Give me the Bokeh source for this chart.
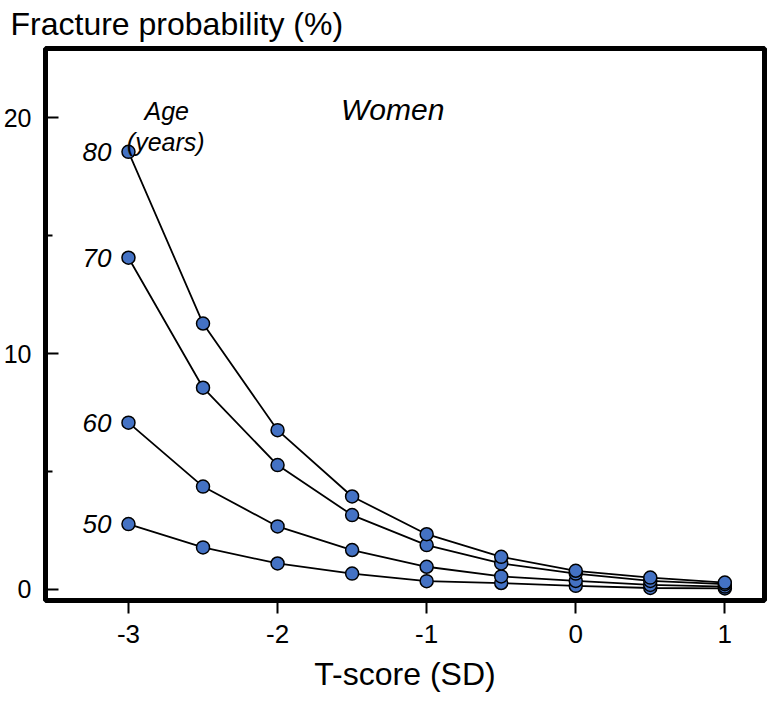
from bokeh.plotting import figure
from bokeh.models import (FixedTicker, Range1d, Label, ColumnDataSource,
                          CustomJSTickFormatter, Title)
from bokeh.core.properties import value
from bokeh.embed import file_html
from bokeh.resources import INLINE

# ---- data ----
t_score = [-3, -2.5, -2, -1.5, -1, -0.5, 0, 0.5, 1]
age_50 = [2.77, 1.78, 1.10, 0.67, 0.35, 0.27, 0.15, 0.06, 0.04]
age_60 = [7.07, 4.36, 2.67, 1.67, 0.96, 0.55, 0.36, 0.19, 0.12]
age_70 = [14.06, 8.55, 5.27, 3.15, 1.88, 1.10, 0.67, 0.36, 0.22]
age_80 = [18.55, 11.27, 6.75, 3.94, 2.34, 1.38, 0.79, 0.50, 0.29]
age_labels = ["50", "60", "70", "80"]
x_ticks = [-3, -2, -1, 0, 1]
y_ticks = [0, 10, 20]
y_minor = [5, 15]

FONT = "Liberation Sans"
BLUE = "#4472C4"

X0, X1 = -3.5565, 1.266
Y0, Y1 = -0.47, 22.93

p = figure(frame_width=719, frame_height=552,
           x_range=Range1d(X0, X1), y_range=Range1d(Y0, Y1),
           output_backend="svg", toolbar_location=None,
           min_border_left=45, min_border_top=48, min_border_right=4,
           min_border_bottom=100)
p.background_fill_color = "white"
p.border_fill_color = "white"
p.outline_line_color = "black"
p.outline_line_width = 5
p.xgrid.visible = False
p.ygrid.visible = False

# x axis
xa = p.xaxis[0]
xa.ticker = FixedTicker(ticks=x_ticks)
xa.formatter = CustomJSTickFormatter(code="return tick.toString();")
xa.axis_line_color = None
xa.major_tick_in = 0
xa.major_tick_out = 13
xa.major_tick_line_width = 2
xa.minor_tick_line_color = None
xa.major_label_text_font = FONT
xa.major_label_text_font_size = "26px"
xa.major_label_text_color = "black"
xa.major_label_standoff = 11
xa.axis_label = "T-score (SD)"
xa.axis_label_text_font = FONT
xa.axis_label_text_font_size = "32px"
xa.axis_label_text_font_style = "normal"
xa.axis_label_text_color = "black"
xa.axis_label_standoff = 10

# y axis
ya = p.yaxis[0]
ya.ticker = FixedTicker(ticks=y_ticks, minor_ticks=y_minor)
ya.formatter = CustomJSTickFormatter(code="return tick.toString();")
ya.axis_line_color = None
ya.major_tick_in = 13
ya.major_tick_out = 0
ya.minor_tick_in = 7
ya.minor_tick_out = 0
ya.major_tick_line_width = 2
ya.minor_tick_line_width = 2
ya.major_label_text_font = FONT
ya.major_label_text_font_size = "25px"
ya.major_label_text_color = "black"
ya.major_label_standoff = 14

# y title at top-left
p.add_layout(Title(text="Fracture probability (%)", align="left",
                   vertical_align="top",
                   text_font=FONT, text_font_size="32px",
                   text_font_style="normal", text_color="black",
                   text_line_height=0.8, standoff=10, offset=-35), "above")

series = [age_50, age_60, age_70, age_80]
for s in series:
    p.line(t_score, s, line_color="black", line_width=1.8)
for s in series:
    p.scatter(t_score, s, size=13, fill_color=BLUE, line_color="black",
              line_width=1.5)

lab_src = ColumnDataSource(dict(x=[t_score[0]] * len(series),
                                y=[s[0] for s in series],
                                text=age_labels))
p.text(x="x", y="y", text="text", source=lab_src, x_offset=-17,
       text_align="right", text_baseline="middle",
       text_font=value(FONT), text_font_size="26px",
       text_font_style="italic", text_color="black")

for txt, x, y, sz in [("Age", -2.743, 20.28, "25px"),
                      ("(years)", -2.75, 18.96, "25px"),
                      ("Women", -1.228, 20.36, "30px")]:
    p.add_layout(Label(x=x, y=y, text=txt, text_align="center",
                       text_baseline="alphabetic", text_font=FONT,
                       text_font_size=sz, text_font_style="italic",
                       text_color="black"))

open("out.html", "w").write(file_html(p, INLINE))
